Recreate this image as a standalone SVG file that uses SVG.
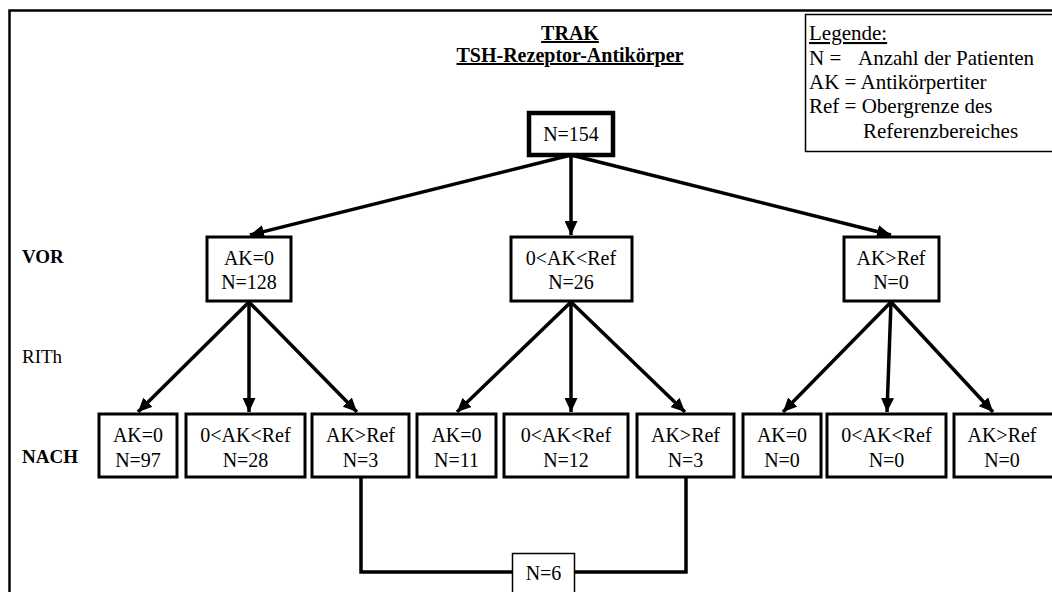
<svg xmlns="http://www.w3.org/2000/svg" width="1052" height="592" viewBox="0 0 1052 592" font-family="'Liberation Serif', 'Times New Roman', serif">
<style>
text{font-family:'Liberation Serif','Times New Roman',serif;fill:#000}
.t{font-size:20px;text-anchor:middle}
.title{font-size:20px;font-weight:bold;text-anchor:middle;text-decoration:underline}
.lbl{font-size:19px;font-weight:bold}
.lg{font-size:21px}
.box{fill:#fff;stroke:#000;stroke-width:3}
.con{fill:none;stroke:#000;stroke-width:3.5}
</style>
<defs>
<marker id="ah" markerUnits="userSpaceOnUse" markerWidth="15" markerHeight="13" refX="14" refY="6.5" orient="auto">
<path d="M0,0 L14,6.5 L0,13 z" fill="#000"/>
</marker>
</defs>
<rect width="1052" height="592" fill="#fff"/>
<path d="M9.5,592 V10.5 H1052" fill="none" stroke="#000" stroke-width="2.5"/>

<g id="title">
<text class="title" x="570" y="40">TRAK</text>
<text class="title" x="570" y="62">TSH-Rezeptor-Antikörper</text>
</g>

<g id="legend">
<rect x="805.5" y="14.5" width="260" height="137" fill="#fff" stroke="#000" stroke-width="1.5"/>
<text class="lg" x="809" y="40" text-decoration="underline">Legende:</text>
<text class="lg" x="809" y="65">N =</text>
<text class="lg" x="858" y="65">Anzahl der Patienten</text>
<text class="lg" x="809" y="89">AK = Antikörpertiter</text>
<text class="lg" x="809" y="113">Ref = Obergrenze des</text>
<text class="lg" x="863" y="138">Referenzbereiches</text>
</g>

<g id="row-labels">
<text class="lbl" x="22" y="263">VOR</text>
<text x="22" y="363" font-size="19">RITh</text>
<text class="lbl" x="22" y="463">NACH</text>
</g>

<g id="connectors">
<line class="con" x1="571" y1="155" x2="250" y2="235" marker-end="url(#ah)"/>
<line class="con" x1="571" y1="155" x2="571" y2="235" marker-end="url(#ah)"/>
<line class="con" x1="571" y1="155" x2="891" y2="235" marker-end="url(#ah)"/>
<line class="con" x1="249" y1="302" x2="138" y2="412" marker-end="url(#ah)"/>
<line class="con" x1="249" y1="302" x2="249" y2="412" marker-end="url(#ah)"/>
<line class="con" x1="249" y1="302" x2="357" y2="412" marker-end="url(#ah)"/>
<line class="con" x1="571" y1="302" x2="457" y2="412" marker-end="url(#ah)"/>
<line class="con" x1="571" y1="302" x2="571" y2="412" marker-end="url(#ah)"/>
<line class="con" x1="571" y1="302" x2="685" y2="412" marker-end="url(#ah)"/>
<line class="con" x1="891" y1="302" x2="783" y2="412" marker-end="url(#ah)"/>
<line class="con" x1="891" y1="302" x2="887" y2="412" marker-end="url(#ah)"/>
<line class="con" x1="891" y1="302" x2="993" y2="412" marker-end="url(#ah)"/>
<path class="con" d="M361,478 V572 H686 V478"/>
</g>

<g id="n154">
<rect x="529" y="113" width="84" height="42" fill="#fff" stroke="#000" stroke-width="4.5"/>
<text class="t" x="571" y="141">N=154</text>
</g>

<g id="vor-ak0">
<rect class="box" x="207" y="237" width="84" height="64"/>
<text class="t" x="249" y="265">AK=0</text>
<text class="t" x="249" y="289">N=128</text>
</g>
<g id="vor-mid">
<rect class="box" x="511" y="237" width="121" height="64"/>
<text class="t" x="571" y="265">0&lt;AK&lt;Ref</text>
<text class="t" x="571" y="289">N=26</text>
</g>
<g id="vor-gt">
<rect class="box" x="844" y="237" width="95" height="64"/>
<text class="t" x="891" y="265">AK&gt;Ref</text>
<text class="t" x="891" y="289">N=0</text>
</g>

<g id="nach-1">
<rect class="box" x="99" y="414" width="78" height="63"/>
<text class="t" x="138" y="442">AK=0</text>
<text class="t" x="138" y="467">N=97</text>
</g>
<g id="nach-2">
<rect class="box" x="186" y="414" width="119" height="63"/>
<text class="t" x="245.5" y="442">0&lt;AK&lt;Ref</text>
<text class="t" x="245.5" y="467">N=28</text>
</g>
<g id="nach-3">
<rect class="box" x="312" y="414" width="97" height="63"/>
<text class="t" x="360.5" y="442">AK&gt;Ref</text>
<text class="t" x="360.5" y="467">N=3</text>
</g>
<g id="nach-4">
<rect class="box" x="417" y="414" width="79" height="63"/>
<text class="t" x="456.5" y="442">AK=0</text>
<text class="t" x="456.5" y="467">N=11</text>
</g>
<g id="nach-5">
<rect class="box" x="504" y="414" width="124" height="63"/>
<text class="t" x="566" y="442">0&lt;AK&lt;Ref</text>
<text class="t" x="566" y="467">N=12</text>
</g>
<g id="nach-6">
<rect class="box" x="637" y="414" width="97" height="63"/>
<text class="t" x="685.5" y="442">AK&gt;Ref</text>
<text class="t" x="685.5" y="467">N=3</text>
</g>
<g id="nach-7">
<rect class="box" x="743" y="414" width="78" height="63"/>
<text class="t" x="782" y="442">AK=0</text>
<text class="t" x="782" y="467">N=0</text>
</g>
<g id="nach-8">
<rect class="box" x="827" y="414" width="119" height="63"/>
<text class="t" x="886.5" y="442">0&lt;AK&lt;Ref</text>
<text class="t" x="886.5" y="467">N=0</text>
</g>
<g id="nach-9">
<rect class="box" x="954" y="414" width="110" height="63"/>
<text class="t" x="1002" y="442">AK&gt;Ref</text>
<text class="t" x="1002" y="467">N=0</text>
</g>

<g id="n6">
<rect x="512.5" y="553.5" width="62" height="40" fill="#fff" stroke="#000" stroke-width="1.5"/>
<text class="t" x="543.5" y="580">N=6</text>
</g>
</svg>
